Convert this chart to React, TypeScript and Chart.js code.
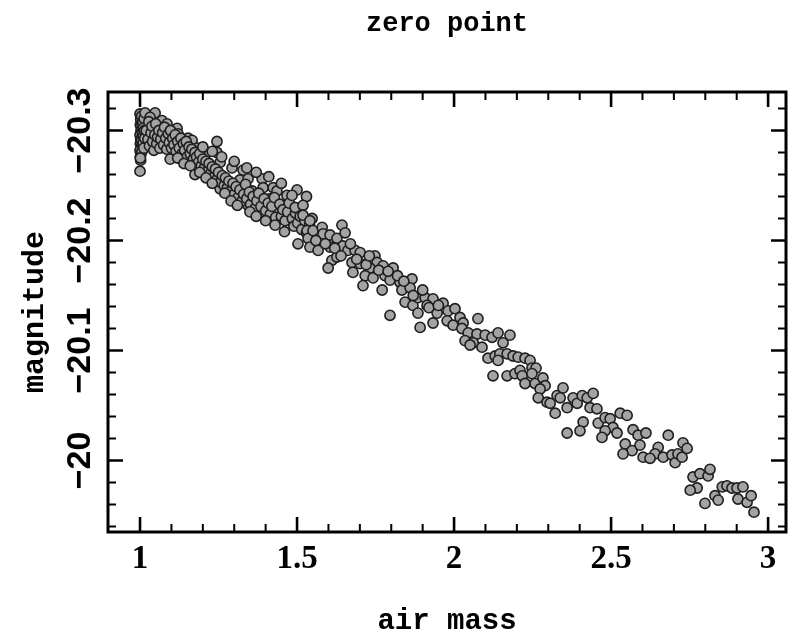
import { useEffect, useRef } from "react";
import { Chart, registerables } from "chart.js";

Chart.register(...registerables);

const titleText = "zero point";
const xAxisTitle = "air mass";
const yAxisTitle = "magnitude";
const xTickValues = [1, 1.5, 2, 2.5, 3];
const xTickLabels = ["1", "1.5", "2", "2.5", "3"];
const yTickValues = [-20.3, -20.2, -20.1, -20];
const yTickLabels = ["\u221220.3", "\u221220.2", "\u221220.1", "\u221220"];

// [air mass, magnitude], grouped by air-mass range
const pointsNearOne: [number, number][] = [
  [1.0, -20.315], [1.002, -20.31], [1.001, -20.305], [1.003, -20.3], [1.0, -20.296], [1.002, -20.292],
  [1.001, -20.288], [1.004, -20.285], [1.0, -20.282], [1.003, -20.279], [1.001, -20.276], [1.002, -20.273],
  [1.005, -20.313], [1.006, -20.306], [1.007, -20.298], [1.005, -20.291], [1.008, -20.287], [1.006, -20.281],
  [1.009, -20.308], [1.01, -20.302], [1.011, -20.295], [1.01, -20.289], [1.012, -20.284], [1.013, -20.311],
  [1.014, -20.3], [1.015, -20.293], [1.0, -20.263], [1.001, -20.275],
];

const pointsLow: [number, number][] = [
  [1.016, -20.316], [1.048, -20.316], [1.032, -20.312], [1.07, -20.309], [1.086, -20.306], [1.057, -20.302],
  [1.118, -20.302], [1.121, -20.297], [1.096, -20.274], [1.153, -20.293], [1.166, -20.291], [1.245, -20.29],
  [1.175, -20.26], [1.182, -20.284], [1.213, -20.28], [1.245, -20.28], [1.255, -20.271], [1.293, -20.266],
  [1.328, -20.264], [1.255, -20.247], [1.318, -20.255], [1.344, -20.256], [1.389, -20.256], [1.392, -20.248],
  [1.334, -20.243], [1.357, -20.245], [1.424, -20.248], [1.436, -20.245], [1.344, -20.232], [1.414, -20.238],
  [1.468, -20.241], [1.478, -20.23], [1.439, -20.227], [1.548, -20.22],
  [1.02, -20.3], [1.025, -20.292], [1.028, -20.308], [1.03, -20.286], [1.035, -20.298], [1.038, -20.304],
  [1.04, -20.29], [1.044, -20.282], [1.047, -20.296], [1.05, -20.306], [1.053, -20.288], [1.056, -20.294],
  [1.06, -20.3], [1.063, -20.284], [1.066, -20.292], [1.072, -20.298], [1.075, -20.287], [1.078, -20.303],
  [1.082, -20.293], [1.085, -20.283], [1.09, -20.297], [1.093, -20.289], [1.097, -20.3], [1.1, -20.284],
  [1.104, -20.293], [1.108, -20.287], [1.112, -20.296], [1.115, -20.281], [1.12, -20.29], [1.125, -20.284],
  [1.13, -20.293], [1.134, -20.279], [1.138, -20.288], [1.142, -20.282], [1.147, -20.29], [1.15, -20.276],
  [1.156, -20.285], [1.16, -20.279], [1.165, -20.283], [1.17, -20.274], [1.175, -20.28], [1.18, -20.276],
  [1.186, -20.271], [1.19, -20.279], [1.195, -20.268], [1.2, -20.274], [1.205, -20.266], [1.21, -20.272],
  [1.216, -20.263], [1.22, -20.27], [1.225, -20.261], [1.23, -20.267], [1.236, -20.258], [1.24, -20.265],
  [1.246, -20.256], [1.25, -20.262], [1.256, -20.253], [1.262, -20.259], [1.268, -20.25], [1.272, -20.257],
  [1.278, -20.248], [1.283, -20.254], [1.29, -20.245], [1.296, -20.252], [1.3, -20.242], [1.306, -20.249],
  [1.312, -20.239], [1.318, -20.246], [1.325, -20.236], [1.33, -20.242], [1.336, -20.251], [1.34, -20.238],
  [1.348, -20.244], [1.352, -20.233], [1.36, -20.24], [1.366, -20.229], [1.372, -20.236], [1.378, -20.243],
  [1.385, -20.231], [1.395, -20.238], [1.4, -20.227], [1.408, -20.234], [1.415, -20.224], [1.42, -20.231],
  [1.428, -20.239], [1.432, -20.221], [1.445, -20.233], [1.45, -20.222], [1.455, -20.228], [1.462, -20.218],
  [1.47, -20.226], [1.475, -20.234], [1.485, -20.22], [1.49, -20.213], [1.495, -20.225], [1.502, -20.216],
  [1.51, -20.222], [1.515, -20.21], [1.525, -20.218], [1.53, -20.207], [1.54, -20.214],
  [1.12, -20.275], [1.14, -20.27], [1.16, -20.268], [1.19, -20.262], [1.21, -20.257], [1.23, -20.252],
  [1.27, -20.243], [1.29, -20.236], [1.31, -20.232], [1.35, -20.226], [1.37, -20.222], [1.4, -20.218],
  [1.43, -20.214], [1.46, -20.208], [1.2, -20.285], [1.23, -20.281], [1.26, -20.276], [1.3, -20.272],
  [1.34, -20.266], [1.37, -20.262], [1.41, -20.258], [1.45, -20.252], [1.5, -20.246], [1.53, -20.24],
];

const pointsMid: [number, number][] = [
  [1.484, -20.241], [1.494, -20.23], [1.519, -20.232], [1.519, -20.223], [1.541, -20.218], [1.532, -20.209],
  [1.503, -20.197], [1.535, -20.202], [1.541, -20.194], [1.567, -20.191], [1.551, -20.209], [1.58, -20.212],
  [1.583, -20.206], [1.605, -20.205], [1.627, -20.202], [1.643, -20.214], [1.653, -20.207], [1.605, -20.194],
  [1.611, -20.182], [1.599, -20.175], [1.627, -20.185], [1.646, -20.195], [1.662, -20.191], [1.685, -20.191],
  [1.701, -20.189], [1.675, -20.18], [1.678, -20.171], [1.701, -20.179], [1.748, -20.186], [1.755, -20.18],
  [1.774, -20.177], [1.732, -20.175], [1.717, -20.168], [1.742, -20.166], [1.71, -20.159], [1.78, -20.168],
  [1.806, -20.175], [1.796, -20.164], [1.771, -20.155], [1.828, -20.162], [1.834, -20.155], [1.866, -20.165],
  [1.86, -20.157], [1.844, -20.144], [1.869, -20.141], [1.885, -20.148], [1.908, -20.148], [1.933, -20.147],
  [1.914, -20.141], [1.885, -20.134], [1.796, -20.132], [1.965, -20.143], [1.946, -20.134], [1.981, -20.136],
  [2.003, -20.138], [2.019, -20.13], [1.978, -20.127], [1.933, -20.125], [1.997, -20.123], [2.029, -20.125],
  [1.892, -20.121],
  [1.56, -20.2], [1.59, -20.197], [1.62, -20.193], [1.64, -20.186], [1.67, -20.197], [1.69, -20.183],
  [1.72, -20.178], [1.73, -20.186], [1.76, -20.173], [1.79, -20.172], [1.82, -20.168], [1.84, -20.163],
  [1.87, -20.15], [1.9, -20.155], [1.92, -20.139], [1.95, -20.141],
];

const pointsHigh: [number, number][] = [
  [2.076, -20.129], [2.025, -20.12], [2.045, -20.116], [2.073, -20.115], [2.099, -20.114], [2.121, -20.112],
  [2.14, -20.116], [2.178, -20.114], [2.035, -20.109], [2.061, -20.107], [2.051, -20.105], [2.089, -20.103],
  [2.156, -20.107], [2.108, -20.093], [2.131, -20.095], [2.146, -20.097], [2.169, -20.097], [2.188, -20.095],
  [2.204, -20.094], [2.226, -20.093], [2.242, -20.091], [2.14, -20.091], [2.124, -20.077], [2.169, -20.077],
  [2.194, -20.079], [2.21, -20.082], [2.217, -20.077], [2.248, -20.084], [2.261, -20.084], [2.248, -20.079],
  [2.226, -20.07], [2.258, -20.07], [2.283, -20.075], [2.29, -20.068], [2.274, -20.065], [2.268, -20.057],
  [2.296, -20.053], [2.306, -20.052], [2.328, -20.059], [2.347, -20.066], [2.338, -20.057], [2.322, -20.043],
  [2.36, -20.048], [2.379, -20.057], [2.392, -20.052], [2.408, -20.059], [2.424, -20.057], [2.443, -20.061],
  [2.433, -20.048], [2.455, -20.047], [2.411, -20.035], [2.36, -20.025], [2.401, -20.027], [2.459, -20.034],
  [2.481, -20.039], [2.497, -20.038], [2.506, -20.03], [2.481, -20.027], [2.529, -20.043], [2.551, -20.041],
  [2.519, -20.025], [2.471, -20.021],
];

const pointsTop: [number, number][] = [
  [2.57, -20.028], [2.586, -20.023], [2.611, -20.025], [2.545, -20.015], [2.567, -20.009], [2.538, -20.006],
  [2.592, -20.014], [2.65, -20.012], [2.64, -20.006], [2.602, -20.003], [2.624, -20.002], [2.666, -20.003],
  [2.682, -20.023], [2.694, -20.005], [2.704, -19.998], [2.713, -20.006], [2.726, -20.003], [2.729, -20.016],
  [2.742, -20.011], [2.761, -19.985], [2.783, -19.988], [2.809, -19.986], [2.815, -19.992], [2.774, -19.975],
  [2.752, -19.973], [2.799, -19.961], [2.831, -19.968], [2.841, -19.964], [2.854, -19.976], [2.869, -19.977],
  [2.885, -19.975], [2.901, -19.975], [2.92, -19.976], [2.904, -19.965], [2.933, -19.962], [2.946, -19.968],
  [2.955, -19.953],
];

const allPoints = [...pointsNearOne, ...pointsLow, ...pointsMid, ...pointsHigh, ...pointsTop];

const frameTicksPlugin = {
  id: "frameTicks",
  afterDatasetsDraw(chart: any) {
    const { ctx, chartArea: a, scales } = chart;
    const xs = scales.x;
    const ys = scales.y;
    ctx.save();
    ctx.strokeStyle = "#000";
    ctx.lineCap = "butt";
    for (let i = 10; i <= 30; i++) {
      const px = xs.getPixelForValue(i / 10);
      const major = i % 5 === 0;
      const len = major ? 15 : 8;
      ctx.lineWidth = major ? 2.6 : 2;
      ctx.beginPath();
      ctx.moveTo(px, a.bottom);
      ctx.lineTo(px, a.bottom - len);
      ctx.moveTo(px, a.top);
      ctx.lineTo(px, a.top + len);
      ctx.stroke();
    }
    for (let i = -1016; i <= -997; i++) {
      const py = ys.getPixelForValue(i * 0.02);
      const major = i % 5 === 0;
      const len = major ? 15 : 8;
      ctx.lineWidth = major ? 2.6 : 2;
      ctx.beginPath();
      ctx.moveTo(a.left, py);
      ctx.lineTo(a.left + len, py);
      ctx.moveTo(a.right, py);
      ctx.lineTo(a.right - len, py);
      ctx.stroke();
    }
    ctx.lineWidth = 3;
    ctx.strokeRect(a.left, a.top, a.right - a.left, a.bottom - a.top);

    ctx.fillStyle = "#000";
    ctx.font = "bold 34px 'Liberation Sans', sans-serif";
    ctx.textAlign = "center";
    ctx.textBaseline = "alphabetic";
    yTickValues.forEach((v, idx) => {
      const py = ys.getPixelForValue(v);
      ctx.save();
      ctx.translate(90, py);
      ctx.rotate(-Math.PI / 2);
      ctx.fillText(yTickLabels[idx], 0, 0);
      ctx.restore();
    });
    ctx.restore();
  },
};

export default function App() {
  const ref = useRef<HTMLCanvasElement>(null);
  useEffect(() => {
    const canvas = ref.current;
    if (!canvas) return;
    const chart = new Chart(canvas, {
      type: "scatter",
      data: {
        datasets: [
          {
            data: allPoints.map(([x, y]) => ({ x, y })),
            backgroundColor: "rgb(163,163,163)",
            borderColor: "#1e1e1e",
            borderWidth: 1.6,
            pointRadius: 5.1,
            pointHoverRadius: 5.1,
          },
        ],
      },
      options: {
        animation: false,
        responsive: false,
        devicePixelRatio: 1,
        events: [],
        layout: { padding: { left: 0, right: 9, top: 0, bottom: 0 } },
        plugins: {
          legend: { display: false },
          tooltip: { enabled: false },
          title: {
            display: true,
            text: titleText,
            color: "#000",
            fullSize: false,
            font: { family: "'Liberation Mono', monospace", size: 27, weight: "bold", lineHeight: 1.2 },
            padding: { top: 8, bottom: 51.6 },
          },
        },
        scales: {
          x: {
            type: "linear",
            min: 0.898,
            max: 3.057,
            afterBuildTicks: (s: any) => {
              s.ticks = xTickValues.map((v) => ({ value: v }));
            },
            afterFit: (s: any) => {
              s.height = 104;
            },
            grid: { display: false, drawTicks: false },
            border: { display: false },
            ticks: {
              color: "#000",
              autoSkip: false,
              maxRotation: 0,
              padding: 8,
              font: { family: "'Liberation Serif', serif", size: 33, weight: "bold", lineHeight: 1.2 },
              callback: (_v: any, i: number) => xTickLabels[i],
            },
            title: {
              display: true,
              text: xAxisTitle,
              color: "#000",
              font: { family: "'Liberation Mono', monospace", size: 29, weight: "bold", lineHeight: 1 },
              padding: 0,
            },
          },
          y: {
            type: "linear",
            min: -20.335,
            max: -19.935,
            reverse: true,
            afterFit: (s: any) => {
              s.width = 108;
            },
            grid: { display: false, drawTicks: false },
            border: { display: false },
            ticks: { display: false },
            title: {
              display: true,
              text: yAxisTitle,
              color: "#000",
              font: { family: "'Liberation Mono', monospace", size: 30, weight: "bold", lineHeight: 1.2 },
              padding: { top: 17, bottom: 0 },
            },
          },
        },
      } as any,
      plugins: [frameTicksPlugin],
    });
    return () => chart.destroy();
  }, []);
  return (
    <div style={{ position: "absolute", left: 0, top: 0, width: 795, height: 636, background: "#fff" }}>
      <canvas ref={ref} width={795} height={636} style={{ display: "block", width: 795, height: 636 }} />
    </div>
  );
}
